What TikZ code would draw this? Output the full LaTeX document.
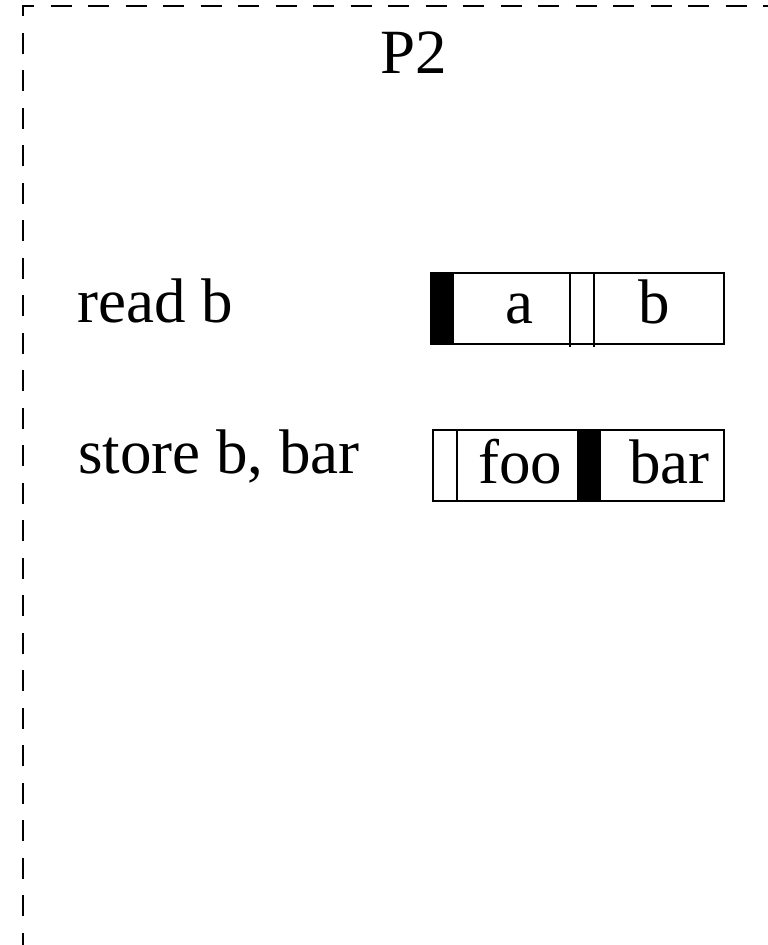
\documentclass[tikz,border=0pt]{standalone}
\usepackage{fontspec}
\setmainfont{Liberation Serif}
\begin{document}
\begin{tikzpicture}[x=1pt,y=-1pt,
  lbl/.style={inner sep=0pt,anchor=base west,font=\fontsize{63}{70}\selectfont},
  cellline/.style={line width=1.5pt},
  frame/.style={line width=2.4pt,dash pattern=on 21pt off 16.5pt,dash phase=21pt}]
\useasboundingbox (0,0) rectangle (768,945);
\clip (0,0) rectangle (768,945);
\fill[white] (0,0) rectangle (768,945);

% processor frame (open towards right and bottom)
\draw[frame] (23,970) -- (23,6) -- (800,6);

% title
\node[lbl] (title) at (380,73) {P2};

% instruction labels
\node[lbl] (rd) at (77,322) {read b};
\node[lbl] (st) at (78,473) {store b, bar};

% first buffer: [#| a | | b ]
\fill (431,273) rectangle (454,344);
\draw[cellline] (431,273) rectangle (724,344);
\draw[cellline] (570,273) -- (570,347);
\draw[cellline] (594,273) -- (594,347);
\node[lbl] (ca) at (505,323) {a};
\node[lbl] (cb) at (638,323) {b};

% second buffer: [ | foo |#| bar ]
\draw[cellline] (433,430) rectangle (724,501);
\draw[cellline] (457,430) -- (457,501);
\fill (577,430) rectangle (601,501);
\node[lbl] (cfoo) at (478,483) {foo};
\node[lbl] (cbar) at (629,483) {bar};
\end{tikzpicture}
\end{document}
